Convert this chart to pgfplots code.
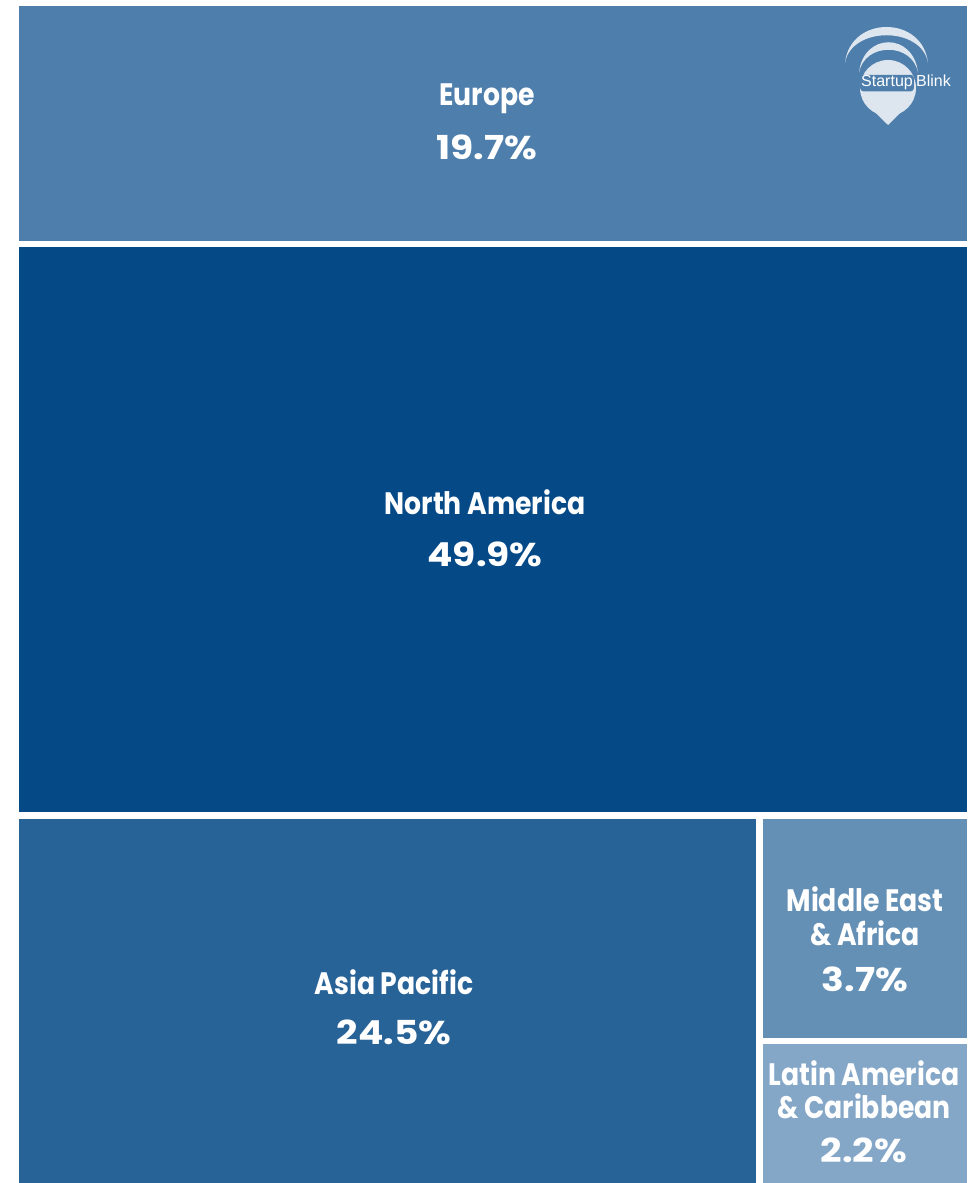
\documentclass[border=0pt]{standalone}
\usepackage{pgfplots}
\pgfplotsset{compat=1.18}
\usepackage{fontspec}
\setmainfont{Poppins}
\newfontfamily\lab[FakeStretch=0.86]{Poppins}
\newfontfamily\pctf[FakeStretch=1.14]{Poppins}
\newfontfamily\logofont{Liberation Sans}
\definecolor{eu}{HTML}{4E7EAB}
\definecolor{na}{HTML}{054987}
\definecolor{ap}{HTML}{286398}
\definecolor{me}{HTML}{6590B6}
\definecolor{la}{HTML}{84A6C7}
\definecolor{logolight}{HTML}{DDE6EF}
\begin{document}
\begin{tikzpicture}
\begin{axis}[
  scale only axis, width=971pt, height=1183pt,
  xmin=0, xmax=971, ymin=0, ymax=1183,
  hide axis, clip=false,
]
% background
\addplot[fill=white, draw=none] coordinates {(0,0) (971,0) (971,1183) (0,1183)} -- cycle;
% treemap tiles: (x1,y1)-(x2,y2)
\addplot[fill=eu, draw=none] coordinates {(19,942) (967,942) (967,1177) (19,1177)} -- cycle;
\addplot[fill=na, draw=none] coordinates {(19,370.5) (967,370.5) (967,936) (19,936)} -- cycle;
\addplot[fill=ap, draw=none] coordinates {(19,0) (755.5,0) (755.5,364) (19,364)} -- cycle;
\addplot[fill=me, draw=none] coordinates {(763,144.5) (967,144.5) (967,364) (763,364)} -- cycle;
\addplot[fill=la, draw=none] coordinates {(763,0) (967,0) (967,138.5) (763,138.5)} -- cycle;

% labels
\tikzset{lbl/.style={text=white, anchor=base, inner sep=0pt, font=\lab\fontsize{31}{31}\selectfont\bfseries},
         pct/.style={text=white, anchor=base, inner sep=0pt, font=\pctf\fontsize{33}{33}\selectfont\bfseries}}
\node[lbl] at (axis cs:487,1077) {Europe};
\node[pct] at (axis cs:487,1023) {19.7\%};
\node[lbl] at (axis cs:485,668) {North America};
\node[pct] at (axis cs:485,616) {49.9\%};
\node[lbl] at (axis cs:394,188) {Asia Pacific};
\node[pct] at (axis cs:394,138) {24.5\%};
\node[lbl] at (axis cs:865,271) {Middle East};
\node[lbl] at (axis cs:865,237) {\& Africa};
\node[pct] at (axis cs:865,191) {3.7\%};
\node[lbl] at (axis cs:864,97) {Latin America};
\node[lbl] at (axis cs:864,64) {\& Caribbean};
\node[pct] at (axis cs:864,20) {2.2\%};

% logo
\fill[logolight] (axis cs:845,1120) .. controls (axis cs:850,1168) and (axis cs:923,1168) .. (axis cs:928,1120)
   .. controls (axis cs:922,1157) and (axis cs:851,1157) .. cycle;
\fill[logolight] (axis cs:859,1110) .. controls (axis cs:863,1151) and (axis cs:914,1151) .. (axis cs:918,1110)
   .. controls (axis cs:913,1141) and (axis cs:864,1141) .. cycle;
\fill[logolight] (axis cs:888,1095) circle[radius=28];
\fill[logolight] (axis cs:862.5,1083) -- (axis cs:888,1058) -- (axis cs:913.5,1083) -- cycle;
\node[fill=eu, text=white, rounded corners=3pt, inner sep=1pt, anchor=base west,
      font=\logofont\fontsize{16}{16}\selectfont] at (axis cs:860,1096) {Startup};
\node[text=white, inner sep=0pt, anchor=base west,
      font=\logofont\fontsize{16}{16}\selectfont] at (axis cs:916,1096) {Blink};
\end{axis}
\end{tikzpicture}
\end{document}
